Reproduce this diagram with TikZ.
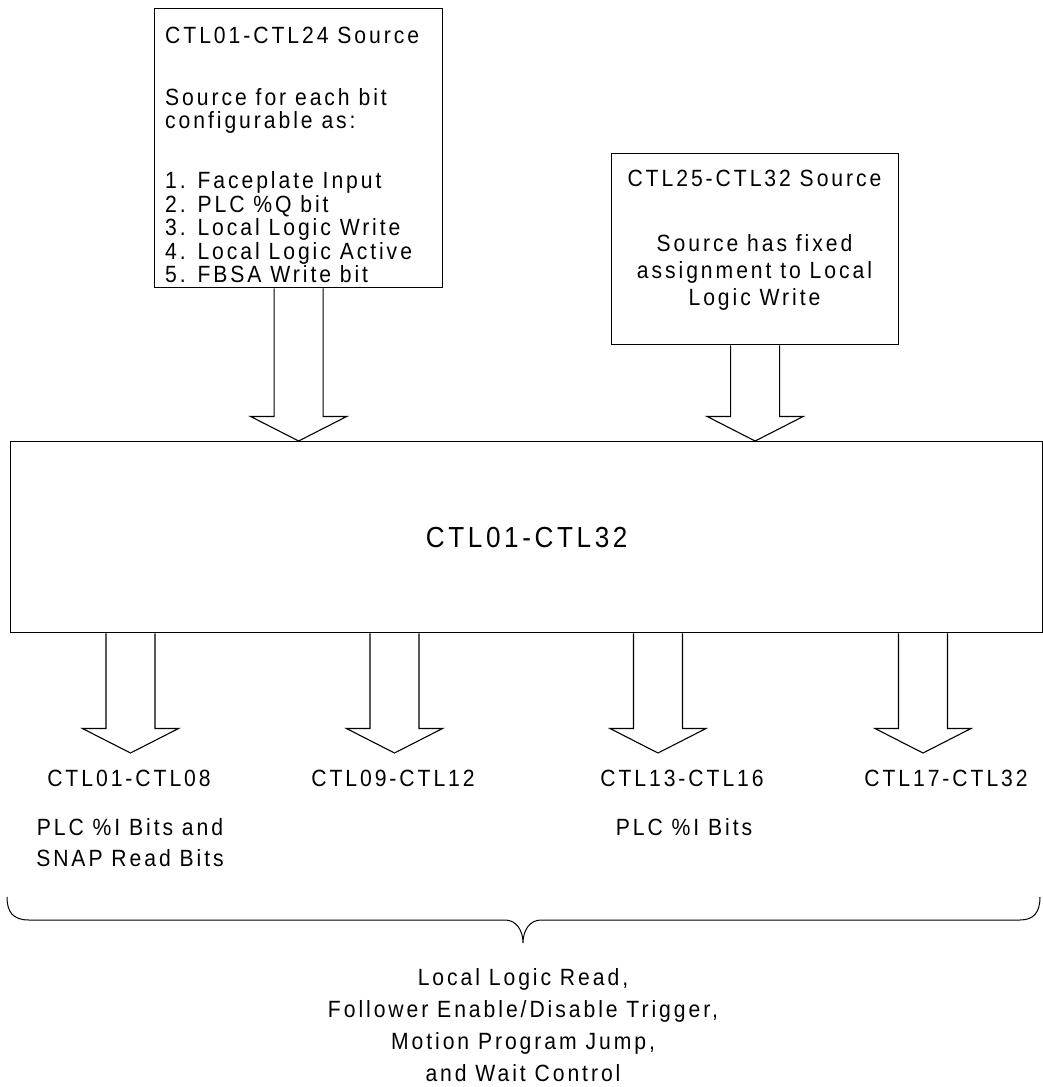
\documentclass[tikz,border=0pt]{standalone}
\usepackage{fontspec}
\setmainfont{Liberation Sans}[FakeStretch=0.9, LetterSpace=12.5]
\usetikzlibrary{calc}
\tikzset{
  blockbox/.style={draw, line width=1.3pt, inner sep=0pt},
  boxtext/.style={inner sep=0pt, font=\fontsize{23.5}{23.4}\selectfont},
  outlabel/.style={inner sep=0pt, align=center, font=\fontsize{23.5}{31}\selectfont},
  hollowarrow/.style={draw, line width=1.1pt, fill=white, line join=miter}
}
% hollow block arrow, from #1 (shaft top) down to #2 (tip)
\newcommand\fatarrow[2]{%
  \draw[hollowarrow] let \p1=(#1), \p2=(#2) in
    (\x1-24.5,\y1) -- (\x1-24.5,\y2+24.5) -- (\x1-48,\y2+24.5) -- (\x1,\y2)
    -- (\x1+48,\y2+24.5) -- (\x1+24.5,\y2+24.5) -- (\x1+24.5,\y1);}

\begin{document}
\begin{tikzpicture}[x=1pt, y=-1pt]
  \useasboundingbox (0,0) rectangle (1043,1087);

  % source boxes
  \node[blockbox, minimum width=288, minimum height=279, anchor=north west] (srcA) at (154,8) {};
  \node[boxtext, align=left, anchor=north west] (srcAtext) at (165,26.5)
    {CTL01-CTL24 Source\\[39pt]
     Source for each bit\\
     configurable as:\\[36.5pt]
     1. Faceplate Input\\
     2. PLC \%Q bit\\
     3. Local Logic Write\\
     4. Local Logic Active\\
     5. FBSA Write bit};
  \node[blockbox, minimum width=287, minimum height=191, anchor=north west] (srcB) at (611,153) {};
  \node[boxtext, align=center, anchor=north, font=\fontsize{23.5}{27}\selectfont] (srcBtext) at (754.5,169.5)
    {CTL25-CTL32 Source\\[38pt]
     Source has fixed\\
     assignment to Local\\
     Logic Write};

  % control bits
  \node[blockbox, minimum width=1032, minimum height=191, anchor=north west] (ctl) at (10,441) {};
  \node[inner sep=0pt, font=\fontsize{29}{30}\selectfont] (ctltext) at (ctl.center) {CTL01-CTL32};

  \fatarrow{srcA.south}{srcA.south |- ctl.north}
  \fatarrow{srcB.south}{srcB.south |- ctl.north}

  % outputs
  \coordinate (tipA) at (130.5,753);
  \coordinate (tipB) at (394.5,753);
  \coordinate (tipC) at (658,753);
  \coordinate (tipD) at (923,753);
  \foreach \t in {tipA,tipB,tipC,tipD}
    \fatarrow{ctl.south -| \t}{\t};

  \node[outlabel] (outA) at (129,778) {CTL01-CTL08};
  \node[outlabel] (outB) at (393,778) {CTL09-CTL12};
  \node[outlabel] (outC) at (682,778) {CTL13-CTL16};
  \node[outlabel] (outD) at (946,778) {CTL17-CTL32};
  \node[outlabel] (plcA) at (130,842.5) {PLC \%I Bits and\\SNAP Read Bits};
  \node[outlabel] (plcC) at (684,827) {PLC \%I Bits};

  % brace
  \draw[line width=1pt] (7,897) .. controls (7,912) and (13,920) .. (29,920) -- (505,920)
    .. controls (516,920) and (523,930) .. (523,943)
    .. controls (523,930) and (530,920) .. (541,920) -- (1020,920)
    .. controls (1034,920) and (1040,912) .. (1040,897);

  \node[outlabel, font=\fontsize{23.5}{32}\selectfont] (usage) at (523,1025.5)
    {Local Logic Read,\\
     Follower Enable/Disable Trigger,\\
     Motion Program Jump,\\
     and Wait Control};
\end{tikzpicture}
\end{document}
